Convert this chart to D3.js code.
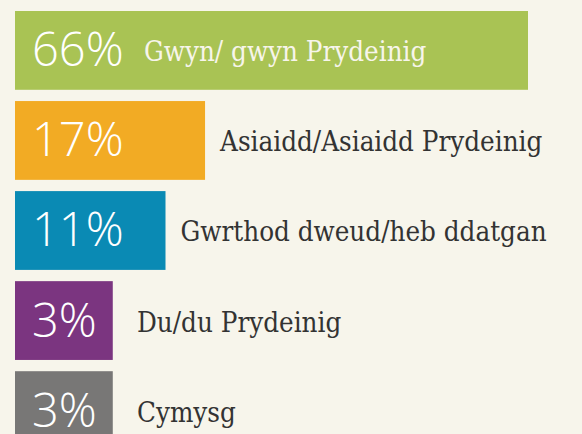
<!DOCTYPE html>
<html>
<head>
<meta charset="utf-8">
<script src="https://cdn.jsdelivr.net/npm/d3@7"></script>
<style>
  body { margin: 0; background: #f7f5eb; }
  .pct { font-family: "Open Sans", sans-serif; font-weight: 300; fill: #fff; }
  .lbl { font-family: "DejaVu Serif", serif; font-stretch: condensed; }
</style>
</head>
<body>
<div id="chart"></div>
<script>
// data
var categories = ["Gwyn/ gwyn Prydeinig", "Asiaidd/Asiaidd Prydeinig", "Gwrthod dweud/heb ddatgan", "Du/du Prydeinig", "Cymysg"];
var values = [66, 17, 11, 3, 3];
var colours = ["#a9c354", "#f2ab24", "#0a8ab4", "#7b3580", "#787776"];

var svgWidth = 582;
var svgHeight = 434;

var svg = d3.select("#chart")
  .append("svg")
  .attr("width", svgWidth)
  .attr("height", svgHeight);

svg.append("rect")
  .attr("width", svgWidth)
  .attr("height", svgHeight)
  .attr("fill", "#f7f5eb");

var data = categories.map(function(c, i) {
  return { cat: c, value: values[i], colour: colours[i] };
});

// bar length scale (bars keep a minimum length so the number fits)
var xScale = d3.scaleLinear()
  .domain([0, d3.max(values)])
  .range([78, 513]);

var yScale = d3.scaleBand()
  .domain(categories)
  .range([11, 450])
  .paddingInner(0.125)
  .paddingOuter(0);

var left = 15;

var rows = svg.selectAll("g.row")
  .data(data)
  .enter()
  .append("g")
  .attr("class", "row")
  .attr("transform", d => `translate(${left}, ${yScale(d.cat)})`);

rows.append("rect")
  .attr("width", d => xScale(d.value))
  .attr("height", yScale.bandwidth())
  .attr("fill", d => d.colour);

rows.append("text")
  .attr("class", "pct")
  .attr("x", 17)
  .attr("y", yScale.bandwidth() / 2 + 16)
  .attr("font-size", 47)
  .text(d => d.value + "%");

// label goes inside the bar when there is room, otherwise after it
rows.append("text")
  .attr("class", "lbl")
  .attr("x", d => d.value > 50 ? 129 : Math.max(xScale(d.value) + 15, 122))
  .attr("y", yScale.bandwidth() / 2 + 11)
  .attr("font-size", 27.5)
  .attr("fill", d => d.value > 50 ? "#f7f5eb" : "#333")
  .text(d => d.cat);
</script>
</body>
</html>
